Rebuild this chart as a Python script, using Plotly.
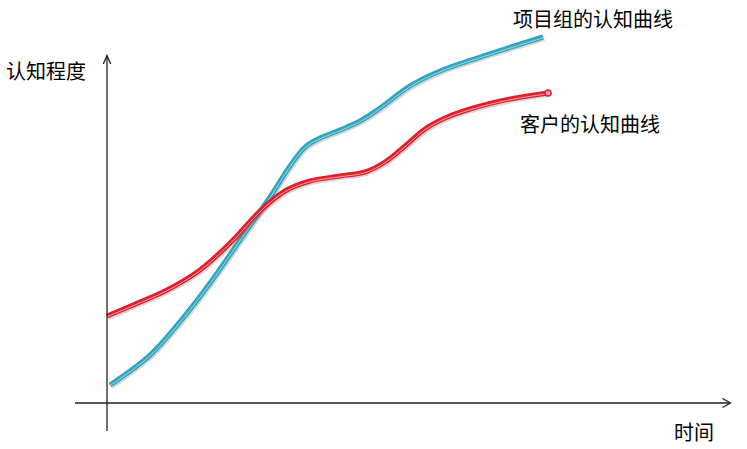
import plotly.graph_objects as go

# ---- data (time units 0..100, cognition 0..100) ----
team_time = [0.68, 9.77, 17.27, 23.41, 30.23, 37.05, 41.59, 45.0, 48.41, 52.95, 57.5, 62.05,
             68.86, 75.68, 84.77, 99.09]
team_level = [5.29, 14.1, 25.0, 35.29, 47.94, 60.59, 69.71, 75.29, 77.94, 80.29, 82.94, 86.76,
              93.24, 97.65, 101.76, 107.65]
client_time = [0.0, 5.91, 13.64, 21.14, 28.64, 34.77, 40.45, 46.14, 52.95, 58.64, 63.18, 67.73,
               72.27, 76.82, 82.5, 91.59, 100.23]
client_level = [25.59, 28.82, 33.24, 39.12, 47.94, 56.47, 62.35, 65.29, 66.76, 67.94, 70.88, 75.59,
                80.59, 83.82, 86.47, 89.41, 91.18]

team_label = "项目组的认知曲线"
client_label = "客户的认知曲线"
y_title = "认知程度"
x_title = "时间"

# ---- layout mapping (reference pixel -> data units) ----
W, H = 747, 449
OX, OY = 107, 403     # pixel position of the origin
SX, SY = 4.4, 3.4     # pixels per data unit


def dx(px):
    return (px - OX) / SX


def dy(py):
    return (OY - py) / SY


fig = go.Figure()

series = [
    (team_time, team_level, "#2fa6c0", "#a8d5de"),
    (client_time, client_level, "#e01f2d", "#f4a3a8"),
]
for xs, ys, col, hi in series:
    fig.add_trace(go.Scatter(x=[v + 1.2 / SX for v in xs], y=[v - 1.6 / SY for v in ys],
                             mode="lines", line=dict(color="rgba(120,120,120,0.3)", width=5, shape="spline"),
                             hoverinfo="skip", showlegend=False))
    fig.add_trace(go.Scatter(x=xs, y=ys, mode="lines",
                             line=dict(color=col, width=5, shape="spline"),
                             showlegend=False))
    fig.add_trace(go.Scatter(x=xs, y=[v - 0.8 / SY for v in ys], mode="lines",
                             line=dict(color=hi, width=1, shape="spline"),
                             hoverinfo="skip", showlegend=False))

# rounded end cap on the client curve
fig.add_trace(go.Scatter(x=[client_time[-1]], y=[client_level[-1]], mode="markers",
                         marker=dict(color="#f4a3a8", size=6, line=dict(color="#e01f2d", width=1.5)),
                         hoverinfo="skip", showlegend=False))

axis_col = "#222222"
shapes = [
    dict(type="line", xref="x", yref="y", x0=0, y0=dy(431), x1=0, y1=dy(56), line=dict(color=axis_col, width=1.3)),
    dict(type="path", xref="x", yref="y",
         path=f"M {dx(103.3)} {dy(64)} L {dx(107)} {dy(55.5)} L {dx(110.7)} {dy(64)}",
         line=dict(color=axis_col, width=1.3)),
    dict(type="line", xref="x", yref="y", x0=dx(75), y0=0, x1=dx(730), y1=0, line=dict(color=axis_col, width=1.3)),
    dict(type="path", xref="x", yref="y",
         path=f"M {dx(722.5)} {dy(398.5)} L {dx(730.5)} {dy(403)} L {dx(722.5)} {dy(407.5)}",
         line=dict(color=axis_col, width=1.3)),
]

font = dict(family="Noto Sans CJK SC", size=20, color="#000000")
annotations = [
    dict(x=dx(593), y=dy(18), text=team_label, showarrow=False, font=font, xanchor="center", yanchor="middle"),
    dict(x=dx(590), y=dy(123.5), text=client_label, showarrow=False, font=font, xanchor="center", yanchor="middle"),
    dict(x=dx(46), y=dy(70.5), text=y_title, showarrow=False, font=font, xanchor="center", yanchor="middle"),
    dict(x=dx(693.5), y=dy(431), text=x_title, showarrow=False, font=font, xanchor="center", yanchor="middle"),
]

fig.update_layout(
    width=W, height=H,
    margin=dict(l=0, r=0, t=0, b=0),
    paper_bgcolor="white", plot_bgcolor="white",
    xaxis=dict(range=[dx(0), dx(W)], visible=False, fixedrange=True),
    yaxis=dict(range=[dy(H), dy(0)], visible=False, fixedrange=True),
    shapes=shapes, annotations=annotations,
    showlegend=False,
)

fig.write_html(
    "out.html",
    config={"displayModeBar": False},
    post_script="document.body.style.margin='0';document.body.style.overflow='hidden';",
)
